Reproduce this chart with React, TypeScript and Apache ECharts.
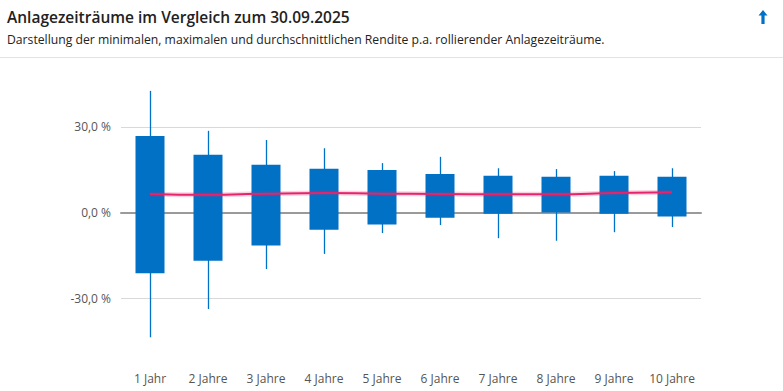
import React, { useEffect, useRef } from "react";
import * as echarts from "echarts";

const categories = ["1 Jahr", "2 Jahre", "3 Jahre", "4 Jahre", "5 Jahre", "6 Jahre", "7 Jahre", "8 Jahre", "9 Jahre", "10 Jahre"];
// box (typical range) bottom/top
const boxLow = [-21.3, -16.9, -11.6, -6.0, -4.2, -1.8, -0.4, 0.0, -0.4, -1.4];
const boxHigh = [26.8, 20.2, 16.7, 15.3, 14.9, 13.5, 12.9, 12.5, 12.9, 12.5];
// minimum / maximum return
const minReturn = [-43.7, -33.8, -19.8, -14.5, -7.2, -4.4, -9.0, -9.9, -6.9, -5.1];
const maxReturn = [42.6, 28.6, 25.4, 22.5, 17.3, 19.5, 15.5, 15.2, 14.5, 15.5];
// average return
const avgReturn = [6.5, 6.2, 6.6, 6.8, 6.6, 6.5, 6.4, 6.4, 6.8, 7.1];

const yTicks = [-45, -30, -15, 0, 15, 30, 45];

const BLUE = "#0171c5";
const PINK = "#e6236b";

export default function App() {
  const ref = useRef<HTMLDivElement>(null);
  useEffect(() => {
    if (!ref.current) return;
    const chart = echarts.init(ref.current, null, { renderer: "svg" });
    const boxData = categories.map((_, i) => [i, boxLow[i], boxHigh[i], minReturn[i], maxReturn[i]]);
    const fmt = (v: number) => v.toFixed(1).replace(".", ",") + " %";
    chart.setOption({
      animation: false,
      title: [
        {
          text: "Anlagezeiträume im Vergleich zum 30.09.2025",
          left: 7,
          top: 9,
          padding: 0,
          textStyle: { fontFamily: "Open Sans", fontSize: 15.5, fontWeight: 600, color: "#222" },
        },
        {
          text: "Darstellung der minimalen, maximalen und durchschnittlichen Rendite p.a. rollierender Anlagezeiträume.",
          left: 7,
          top: 33,
          padding: 0,
          textStyle: { fontFamily: "Open Sans", fontSize: 12.2, fontWeight: 400, color: "#222" },
        },
      ],
      graphic: [
        {
          type: "line",
          shape: { x1: 0, y1: 57.5, x2: 783, y2: 57.5 },
          style: { stroke: "#e3e3e3", lineWidth: 1 },
        },
        {
          type: "polygon",
          shape: {
            points: [
              [763, 10],
              [767.5, 15.5],
              [764.6, 15.5],
              [764.6, 24],
              [761.4, 24],
              [761.4, 15.5],
              [758.5, 15.5],
            ],
          },
          style: { fill: BLUE },
        },
      ],
      grid: { left: 121, right: 82, top: 84, bottom: 50 },
      xAxis: {
        type: "category",
        data: categories,
        axisLine: { onZero: true, lineStyle: { color: "#9a9a9a", width: 2 } },
        axisTick: { show: false },
        axisLabel: { interval: 0, margin: 31, color: "#555", fontSize: 12, fontFamily: "Open Sans" },
        splitLine: { show: false },
      },
      yAxis: {
        type: "value",
        min: yTicks[0],
        max: yTicks[yTicks.length - 1],
        interval: 15,
        axisLine: { show: false },
        axisTick: { show: false },
        axisLabel: {
          margin: 10,
          color: "#555",
          fontSize: 12,
          fontFamily: "Open Sans",
          formatter: (v: number) => (Math.abs(v) % 30 === 0 && Math.abs(v) !== 45 ? fmt(v) : ""),
        },
        splitLine: {
          lineStyle: {
            color: yTicks.map((t) => (t === 30 || t === -30 ? "#d9d9d9" : "rgba(0,0,0,0)")),
            width: 1,
          },
        },
      },
      series: [
        {
          type: "custom",
          data: boxData,
          encode: { x: 0, y: [1, 2, 3, 4] },
          z: 2,
          renderItem: (params: any, api: any) => {
            const i = api.value(0);
            const lo = api.coord([i, api.value(1)]);
            const hi = api.coord([i, api.value(2)]);
            const mn = api.coord([i, api.value(3)]);
            const mx = api.coord([i, api.value(4)]);
            const w = api.size([1, 0])[0] * 0.5;
            const cx = Math.round(lo[0]) + 0.5;
            return {
              type: "group",
              children: [
                {
                  type: "line",
                  shape: { x1: cx, y1: mx[1], x2: cx, y2: mn[1] },
                  style: { stroke: BLUE, lineWidth: 1.3 },
                },
                {
                  type: "rect",
                  shape: { x: lo[0] - w / 2, y: hi[1], width: w, height: lo[1] - hi[1] },
                  style: { fill: BLUE },
                },
              ],
            };
          },
        },
        {
          type: "line",
          data: avgReturn,
          smooth: true,
          symbol: "none",
          lineStyle: { color: PINK, width: 5, opacity: 0.2 },
          z: 3,
          silent: true,
        },
        {
          type: "line",
          data: avgReturn,
          smooth: true,
          symbol: "none",
          lineStyle: { color: PINK, width: 2 },
          z: 4,
        },
      ],
    });
    return () => chart.dispose();
  }, []);
  return <div ref={ref} style={{ position: "fixed", left: 0, top: 0, width: 783, height: 391, background: "#fff" }} />;
}
